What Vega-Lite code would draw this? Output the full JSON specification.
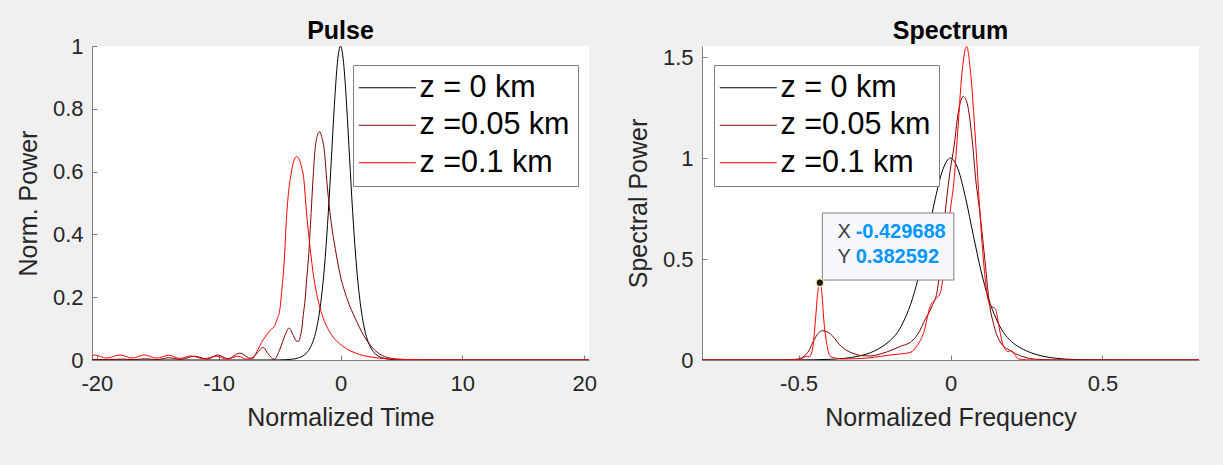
{
  "$schema": "https://vega.github.io/schema/vega-lite/v6.json",
  "background": "#f0f0f0",
  "padding": {"left": 16, "top": 19, "right": 30, "bottom": 45},
  "bounds": "flush",
  "spacing": 113,
  "config": {
    "view": {"fill": "white", "stroke": null},
    "font": "Liberation Sans",
    "axis": {
      "labelFont": "Liberation Sans", "labelFontSize": 22, "labelColor": "#262626",
      "titleFont": "Liberation Sans", "titleFontSize": 25, "titleFontWeight": "normal", "titleColor": "#262626",
      "domainColor": "#7f7f7f", "tickColor": "#7f7f7f", "tickSize": -5, "grid": false,
      "labelExpr": "'' + datum.value"
    },
    "axisX": {"labelPadding": 18, "titlePadding": 11},
    "axisY": {"labelPadding": 14, "titlePadding": 11},
    "title": {"font": "Liberation Sans", "fontSize": 25, "fontWeight": "bold", "color": "#000000", "offset": 2, "baseline": "alphabetic"},
    "legend": {
      "title": null, "orient": "none", "symbolType": "M-3,0H3", "symbolSize": 361, "symbolStrokeWidth": 1,
      "symbolOffset": 11.5, "labelOffset": 17,
      "labelFont": "Liberation Sans", "labelFontSize": 30.5, "labelColor": "#000000",
      "strokeColor": "#7f7f7f", "fillColor": "white", "padding": 7.5, "rowPadding": 6.5
    },
    "line": {"strokeWidth": 1, "interpolate": "monotone"}
  },
  "resolve": {"scale": {"color": "independent"}, "legend": {"color": "independent"}},
  "datasets": {
    "pulse": [
      {"t": -20.4, "P": 0, "z": "z = 0 km"}, {"t": -8, "P": 0, "z": "z = 0 km"}, {"t": -6, "P": 0.0001, "z": "z = 0 km"},
      {"t": -5, "P": 0.0004, "z": "z = 0 km"}, {"t": -4, "P": 0.0024, "z": "z = 0 km"}, {"t": -3.5, "P": 0.0061, "z": "z = 0 km"},
      {"t": -3, "P": 0.0154, "z": "z = 0 km"}, {"t": -2.5, "P": 0.038, "z": "z = 0 km"}, {"t": -2, "P": 0.094, "z": "z = 0 km"},
      {"t": -1.75, "P": 0.146, "z": "z = 0 km"}, {"t": -1.5, "P": 0.222, "z": "z = 0 km"}, {"t": -1.25, "P": 0.329, "z": "z = 0 km"},
      {"t": -1, "P": 0.47, "z": "z = 0 km"}, {"t": -0.75, "P": 0.64, "z": "z = 0 km"}, {"t": -0.5, "P": 0.813, "z": "z = 0 km"},
      {"t": -0.25, "P": 0.948, "z": "z = 0 km"}, {"t": 0, "P": 1, "z": "z = 0 km"}, {"t": 0.25, "P": 0.948, "z": "z = 0 km"},
      {"t": 0.5, "P": 0.813, "z": "z = 0 km"}, {"t": 0.75, "P": 0.64, "z": "z = 0 km"}, {"t": 1, "P": 0.47, "z": "z = 0 km"},
      {"t": 1.25, "P": 0.329, "z": "z = 0 km"}, {"t": 1.5, "P": 0.222, "z": "z = 0 km"}, {"t": 1.75, "P": 0.146, "z": "z = 0 km"},
      {"t": 2, "P": 0.094, "z": "z = 0 km"}, {"t": 2.5, "P": 0.038, "z": "z = 0 km"}, {"t": 3, "P": 0.0154, "z": "z = 0 km"},
      {"t": 3.5, "P": 0.0061, "z": "z = 0 km"}, {"t": 4, "P": 0.0024, "z": "z = 0 km"}, {"t": 5, "P": 0.0004, "z": "z = 0 km"},
      {"t": 6, "P": 0.0001, "z": "z = 0 km"}, {"t": 8, "P": 0, "z": "z = 0 km"}, {"t": 20.4, "P": 0, "z": "z = 0 km"},

      {"t": -20.4, "P": 0.002, "z": "z =0.05 km"}, {"t": -19, "P": 0.001, "z": "z =0.05 km"}, {"t": -18, "P": 0.003, "z": "z =0.05 km"},
      {"t": -17, "P": 0.001, "z": "z =0.05 km"}, {"t": -16, "P": 0.004, "z": "z =0.05 km"}, {"t": -15.1, "P": 0.001, "z": "z =0.05 km"},
      {"t": -14.1, "P": 0.007, "z": "z =0.05 km"}, {"t": -13.1, "P": 0.002, "z": "z =0.05 km"}, {"t": -12, "P": 0.012, "z": "z =0.05 km"},
      {"t": -10.9, "P": 0.003, "z": "z =0.05 km"}, {"t": -10.07, "P": 0.016, "z": "z =0.05 km"}, {"t": -9.24, "P": 0.004, "z": "z =0.05 km"},
      {"t": -8.28, "P": 0.022, "z": "z =0.05 km"}, {"t": -7.3, "P": 0.004, "z": "z =0.05 km"}, {"t": -6.85, "P": 0.022, "z": "z =0.05 km"},
      {"t": -6.35, "P": 0.04, "z": "z =0.05 km"}, {"t": -5.93, "P": 0.019, "z": "z =0.05 km"}, {"t": -5.44, "P": 0.002, "z": "z =0.05 km"},
      {"t": -4.97, "P": 0.035, "z": "z =0.05 km"}, {"t": -4.56, "P": 0.078, "z": "z =0.05 km"}, {"t": -4.23, "P": 0.102, "z": "z =0.05 km"},
      {"t": -3.87, "P": 0.078, "z": "z =0.05 km"}, {"t": -3.6, "P": 0.06, "z": "z =0.05 km"}, {"t": -3.42, "P": 0.06, "z": "z =0.05 km"},
      {"t": -3.3, "P": 0.075, "z": "z =0.05 km"}, {"t": -3.18, "P": 0.099, "z": "z =0.05 km"}, {"t": -3.05, "P": 0.145, "z": "z =0.05 km"},
      {"t": -2.9, "P": 0.195, "z": "z =0.05 km"}, {"t": -2.77, "P": 0.26, "z": "z =0.05 km"}, {"t": -2.63, "P": 0.323, "z": "z =0.05 km"},
      {"t": -2.41, "P": 0.47, "z": "z =0.05 km"}, {"t": -2.25, "P": 0.58, "z": "z =0.05 km"}, {"t": -2.08, "P": 0.674, "z": "z =0.05 km"},
      {"t": -1.9, "P": 0.715, "z": "z =0.05 km"}, {"t": -1.72, "P": 0.727, "z": "z =0.05 km"}, {"t": -1.55, "P": 0.712, "z": "z =0.05 km"},
      {"t": -1.31, "P": 0.66, "z": "z =0.05 km"}, {"t": -1.12, "P": 0.568, "z": "z =0.05 km"}, {"t": -0.84, "P": 0.461, "z": "z =0.05 km"},
      {"t": -0.43, "P": 0.355, "z": "z =0.05 km"}, {"t": -0.02, "P": 0.27, "z": "z =0.05 km"}, {"t": 0.54, "P": 0.195, "z": "z =0.05 km"},
      {"t": 1.23, "P": 0.131, "z": "z =0.05 km"}, {"t": 1.91, "P": 0.078, "z": "z =0.05 km"}, {"t": 2.6, "P": 0.04, "z": "z =0.05 km"},
      {"t": 3.43, "P": 0.014, "z": "z =0.05 km"}, {"t": 4.2, "P": 0.005, "z": "z =0.05 km"}, {"t": 5, "P": 0.002, "z": "z =0.05 km"},
      {"t": 6, "P": 0.0005, "z": "z =0.05 km"}, {"t": 8, "P": 0, "z": "z =0.05 km"}, {"t": 20.4, "P": 0, "z": "z =0.05 km"},

      {"t": -20.4, "P": 0.012, "z": "z =0.1 km"}, {"t": -20.2, "P": 0.016, "z": "z =0.1 km"}, {"t": -19.2, "P": 0.006, "z": "z =0.1 km"},
      {"t": -18.1, "P": 0.016, "z": "z =0.1 km"}, {"t": -17.1, "P": 0.006, "z": "z =0.1 km"}, {"t": -16.1, "P": 0.016, "z": "z =0.1 km"},
      {"t": -15.1, "P": 0.006, "z": "z =0.1 km"}, {"t": -14.1, "P": 0.015, "z": "z =0.1 km"}, {"t": -13.2, "P": 0.005, "z": "z =0.1 km"},
      {"t": -12.3, "P": 0.013, "z": "z =0.1 km"}, {"t": -11.2, "P": 0.004, "z": "z =0.1 km"}, {"t": -10.2, "P": 0.012, "z": "z =0.1 km"},
      {"t": -9.3, "P": 0.003, "z": "z =0.1 km"}, {"t": -8.4, "P": 0.012, "z": "z =0.1 km"}, {"t": -7.7, "P": 0.003, "z": "z =0.1 km"},
      {"t": -7.17, "P": 0.009, "z": "z =0.1 km"}, {"t": -6.76, "P": 0.035, "z": "z =0.1 km"}, {"t": -6.5, "P": 0.055, "z": "z =0.1 km"},
      {"t": -6.21, "P": 0.072, "z": "z =0.1 km"}, {"t": -5.8, "P": 0.094, "z": "z =0.1 km"}, {"t": -5.39, "P": 0.11, "z": "z =0.1 km"},
      {"t": -5.2, "P": 0.13, "z": "z =0.1 km"}, {"t": -4.97, "P": 0.163, "z": "z =0.1 km"}, {"t": -4.8, "P": 0.23, "z": "z =0.1 km"},
      {"t": -4.64, "P": 0.301, "z": "z =0.1 km"}, {"t": -4.42, "P": 0.461, "z": "z =0.1 km"}, {"t": -4.25, "P": 0.54, "z": "z =0.1 km"},
      {"t": -4.07, "P": 0.589, "z": "z =0.1 km"}, {"t": -3.85, "P": 0.632, "z": "z =0.1 km"}, {"t": -3.6, "P": 0.648, "z": "z =0.1 km"},
      {"t": -3.35, "P": 0.635, "z": "z =0.1 km"}, {"t": -3.2, "P": 0.615, "z": "z =0.1 km"}, {"t": -3.04, "P": 0.585, "z": "z =0.1 km"},
      {"t": -2.77, "P": 0.461, "z": "z =0.1 km"}, {"t": -2.49, "P": 0.355, "z": "z =0.1 km"}, {"t": -2.22, "P": 0.27, "z": "z =0.1 km"},
      {"t": -1.8, "P": 0.184, "z": "z =0.1 km"}, {"t": -1.39, "P": 0.131, "z": "z =0.1 km"}, {"t": -0.7, "P": 0.078, "z": "z =0.1 km"},
      {"t": 0.12, "P": 0.046, "z": "z =0.1 km"}, {"t": 1.23, "P": 0.022, "z": "z =0.1 km"}, {"t": 2.6, "P": 0.009, "z": "z =0.1 km"},
      {"t": 3.4, "P": 0.005, "z": "z =0.1 km"}, {"t": 5, "P": 0.002, "z": "z =0.1 km"}, {"t": 7, "P": 0.0005, "z": "z =0.1 km"},
      {"t": 10, "P": 0, "z": "z =0.1 km"}, {"t": 20.4, "P": 0, "z": "z =0.1 km"}
    ],
    "spec": [
      {"f": -0.8175, "S": 0, "z": "z = 0 km"}, {"f": -0.6, "S": 0, "z": "z = 0 km"}, {"f": -0.5, "S": 0.0005, "z": "z = 0 km"},
      {"f": -0.45, "S": 0.0012, "z": "z = 0 km"}, {"f": -0.4, "S": 0.003, "z": "z = 0 km"}, {"f": -0.35, "S": 0.008, "z": "z = 0 km"},
      {"f": -0.3, "S": 0.02, "z": "z = 0 km"}, {"f": -0.25, "S": 0.045, "z": "z = 0 km"}, {"f": -0.2, "S": 0.095, "z": "z = 0 km"},
      {"f": -0.175, "S": 0.135, "z": "z = 0 km"}, {"f": -0.15, "S": 0.205, "z": "z = 0 km"}, {"f": -0.125, "S": 0.304, "z": "z = 0 km"},
      {"f": -0.1, "S": 0.444, "z": "z = 0 km"}, {"f": -0.075, "S": 0.618, "z": "z = 0 km"}, {"f": -0.05, "S": 0.8, "z": "z = 0 km"},
      {"f": -0.025, "S": 0.944, "z": "z = 0 km"}, {"f": 0, "S": 1, "z": "z = 0 km"}, {"f": 0.025, "S": 0.944, "z": "z = 0 km"},
      {"f": 0.05, "S": 0.8, "z": "z = 0 km"}, {"f": 0.075, "S": 0.618, "z": "z = 0 km"}, {"f": 0.1, "S": 0.444, "z": "z = 0 km"},
      {"f": 0.125, "S": 0.304, "z": "z = 0 km"}, {"f": 0.15, "S": 0.205, "z": "z = 0 km"}, {"f": 0.175, "S": 0.135, "z": "z = 0 km"},
      {"f": 0.2, "S": 0.092, "z": "z = 0 km"}, {"f": 0.23, "S": 0.06, "z": "z = 0 km"}, {"f": 0.25, "S": 0.045, "z": "z = 0 km"},
      {"f": 0.3, "S": 0.02, "z": "z = 0 km"}, {"f": 0.35, "S": 0.008, "z": "z = 0 km"}, {"f": 0.4, "S": 0.003, "z": "z = 0 km"},
      {"f": 0.5, "S": 0.0005, "z": "z = 0 km"}, {"f": 0.6, "S": 0, "z": "z = 0 km"}, {"f": 0.8175, "S": 0, "z": "z = 0 km"},

      {"f": -0.8175, "S": 0, "z": "z =0.05 km"}, {"f": -0.55, "S": 0, "z": "z =0.05 km"}, {"f": -0.52, "S": 0.002, "z": "z =0.05 km"},
      {"f": -0.5, "S": 0.005, "z": "z =0.05 km"}, {"f": -0.482, "S": 0.018, "z": "z =0.05 km"}, {"f": -0.466, "S": 0.046, "z": "z =0.05 km"},
      {"f": -0.45, "S": 0.096, "z": "z =0.05 km"}, {"f": -0.435, "S": 0.132, "z": "z =0.05 km"}, {"f": -0.422, "S": 0.145, "z": "z =0.05 km"},
      {"f": -0.41, "S": 0.142, "z": "z =0.05 km"}, {"f": -0.395, "S": 0.129, "z": "z =0.05 km"}, {"f": -0.38, "S": 0.105, "z": "z =0.05 km"},
      {"f": -0.367, "S": 0.079, "z": "z =0.05 km"}, {"f": -0.34, "S": 0.046, "z": "z =0.05 km"}, {"f": -0.315, "S": 0.03, "z": "z =0.05 km"},
      {"f": -0.29, "S": 0.021, "z": "z =0.05 km"}, {"f": -0.263, "S": 0.02, "z": "z =0.05 km"}, {"f": -0.23, "S": 0.03, "z": "z =0.05 km"},
      {"f": -0.186, "S": 0.054, "z": "z =0.05 km"}, {"f": -0.164, "S": 0.068, "z": "z =0.05 km"}, {"f": -0.132, "S": 0.088, "z": "z =0.05 km"},
      {"f": -0.115, "S": 0.112, "z": "z =0.05 km"}, {"f": -0.1, "S": 0.148, "z": "z =0.05 km"}, {"f": -0.088, "S": 0.187, "z": "z =0.05 km"},
      {"f": -0.06, "S": 0.269, "z": "z =0.05 km"}, {"f": -0.044, "S": 0.34, "z": "z =0.05 km"}, {"f": -0.033, "S": 0.467, "z": "z =0.05 km"},
      {"f": -0.016, "S": 0.75, "z": "z =0.05 km"}, {"f": 0, "S": 0.95, "z": "z =0.05 km"}, {"f": 0.011, "S": 1.05, "z": "z =0.05 km"},
      {"f": 0.025, "S": 1.22, "z": "z =0.05 km"}, {"f": 0.042, "S": 1.305, "z": "z =0.05 km"}, {"f": 0.055, "S": 1.27, "z": "z =0.05 km"},
      {"f": 0.071, "S": 1.094, "z": "z =0.05 km"}, {"f": 0.084, "S": 0.88, "z": "z =0.05 km"}, {"f": 0.095, "S": 0.75, "z": "z =0.05 km"},
      {"f": 0.115, "S": 0.467, "z": "z =0.05 km"}, {"f": 0.126, "S": 0.302, "z": "z =0.05 km"}, {"f": 0.143, "S": 0.17, "z": "z =0.05 km"},
      {"f": 0.164, "S": 0.088, "z": "z =0.05 km"}, {"f": 0.197, "S": 0.046, "z": "z =0.05 km"}, {"f": 0.23, "S": 0.021, "z": "z =0.05 km"},
      {"f": 0.26, "S": 0.008, "z": "z =0.05 km"}, {"f": 0.3, "S": 0.002, "z": "z =0.05 km"}, {"f": 0.4, "S": 0, "z": "z =0.05 km"},
      {"f": 0.8175, "S": 0, "z": "z =0.05 km"},

      {"f": -0.8175, "S": 0, "z": "z =0.1 km"}, {"f": -0.55, "S": 0, "z": "z =0.1 km"}, {"f": -0.51, "S": 0.002, "z": "z =0.1 km"},
      {"f": -0.49, "S": 0.006, "z": "z =0.1 km"}, {"f": -0.475, "S": 0.018, "z": "z =0.1 km"}, {"f": -0.465, "S": 0.016, "z": "z =0.1 km"},
      {"f": -0.457, "S": 0.035, "z": "z =0.1 km"}, {"f": -0.452, "S": 0.071, "z": "z =0.1 km"}, {"f": -0.444, "S": 0.203, "z": "z =0.1 km"},
      {"f": -0.437, "S": 0.33, "z": "z =0.1 km"}, {"f": -0.429688, "S": 0.382592, "z": "z =0.1 km"}, {"f": -0.423, "S": 0.33, "z": "z =0.1 km"},
      {"f": -0.417, "S": 0.203, "z": "z =0.1 km"}, {"f": -0.406, "S": 0.071, "z": "z =0.1 km"}, {"f": -0.395, "S": 0.018, "z": "z =0.1 km"},
      {"f": -0.373, "S": 0.008, "z": "z =0.1 km"}, {"f": -0.35, "S": 0.005, "z": "z =0.1 km"}, {"f": -0.318, "S": 0.006, "z": "z =0.1 km"},
      {"f": -0.27, "S": 0.01, "z": "z =0.1 km"}, {"f": -0.23, "S": 0.018, "z": "z =0.1 km"}, {"f": -0.197, "S": 0.025, "z": "z =0.1 km"},
      {"f": -0.164, "S": 0.03, "z": "z =0.1 km"}, {"f": -0.132, "S": 0.038, "z": "z =0.1 km"}, {"f": -0.11, "S": 0.071, "z": "z =0.1 km"},
      {"f": -0.088, "S": 0.137, "z": "z =0.1 km"}, {"f": -0.066, "S": 0.269, "z": "z =0.1 km"}, {"f": -0.049, "S": 0.302, "z": "z =0.1 km"},
      {"f": -0.033, "S": 0.335, "z": "z =0.1 km"}, {"f": -0.027, "S": 0.385, "z": "z =0.1 km"}, {"f": -0.016, "S": 0.55, "z": "z =0.1 km"},
      {"f": 0, "S": 0.75, "z": "z =0.1 km"}, {"f": 0.011, "S": 0.88, "z": "z =0.1 km"}, {"f": 0.022, "S": 1.094, "z": "z =0.1 km"},
      {"f": 0.038, "S": 1.424, "z": "z =0.1 km"}, {"f": 0.053, "S": 1.553, "z": "z =0.1 km"}, {"f": 0.066, "S": 1.424, "z": "z =0.1 km"},
      {"f": 0.082, "S": 1.094, "z": "z =0.1 km"}, {"f": 0.096, "S": 0.75, "z": "z =0.1 km"}, {"f": 0.11, "S": 0.467, "z": "z =0.1 km"},
      {"f": 0.121, "S": 0.318, "z": "z =0.1 km"}, {"f": 0.132, "S": 0.269, "z": "z =0.1 km"}, {"f": 0.148, "S": 0.252, "z": "z =0.1 km"},
      {"f": 0.159, "S": 0.17, "z": "z =0.1 km"}, {"f": 0.17, "S": 0.088, "z": "z =0.1 km"}, {"f": 0.181, "S": 0.051, "z": "z =0.1 km"},
      {"f": 0.19, "S": 0.042, "z": "z =0.1 km"}, {"f": 0.197, "S": 0.046, "z": "z =0.1 km"}, {"f": 0.205, "S": 0.04, "z": "z =0.1 km"},
      {"f": 0.214, "S": 0.021, "z": "z =0.1 km"}, {"f": 0.224, "S": 0.005, "z": "z =0.1 km"}, {"f": 0.25, "S": 0.001, "z": "z =0.1 km"},
      {"f": 0.3, "S": 0, "z": "z =0.1 km"}, {"f": 0.8175, "S": 0, "z": "z =0.1 km"}
    ]
  },
  "hconcat": [
    {
      "width": 497, "height": 314,
      "title": {"text": "Pulse", "dy": 11},
      "data": {"name": "pulse"},
      "mark": {"type": "line", "clip": true},
      "encoding": {
        "x": {"field": "t", "type": "quantitative", "title": "Normalized Time",
              "scale": {"domain": [-20.4, 20.4], "nice": false, "zero": false},
              "axis": {"values": [-20, -10, 0, 10, 20]}},
        "y": {"field": "P", "type": "quantitative", "title": "Norm. Power",
              "scale": {"domain": [0, 1], "nice": false},
              "axis": {"values": [0, 0.2, 0.4, 0.6, 0.8, 1]}},
        "color": {"field": "z", "type": "nominal",
                  "scale": {"domain": ["z = 0 km", "z =0.05 km", "z =0.1 km"], "range": ["#000000", "#800000", "#ff0000"]},
                  "legend": {"legendX": 261, "legendY": 19}}
      }
    },
    {
      "width": 497, "height": 314,
      "title": "Spectrum",
      "layer": [
        {
          "data": {"name": "spec"},
          "mark": {"type": "line", "clip": true},
          "encoding": {
            "x": {"field": "f", "type": "quantitative", "title": "Normalized Frequency",
                  "scale": {"domain": [-0.8175, 0.8175], "nice": false, "zero": false},
                  "axis": {"values": [-0.5, 0, 0.5]}},
            "y": {"field": "S", "type": "quantitative", "title": "Spectral Power",
                  "scale": {"domain": [0, 1.555], "nice": false},
                  "axis": {"values": [0, 0.5, 1, 1.5]}},
            "color": {"field": "z", "type": "nominal",
                      "scale": {"domain": ["z = 0 km", "z =0.05 km", "z =0.1 km"], "range": ["#000000", "#800000", "#ff0000"]},
                      "legend": {"legendX": 12, "legendY": 19}}
          }
        },
        {
          "data": {"values": [{"x1": -0.4215, "x2": 0.011, "y1": 0.396, "y2": 0.728}]},
          "mark": {"type": "rect", "fill": "#f8f8fc", "stroke": "#7f7f7f", "strokeWidth": 1},
          "encoding": {
            "x": {"field": "x1", "type": "quantitative"}, "x2": {"field": "x2"},
            "y": {"field": "y1", "type": "quantitative"}, "y2": {"field": "y2"}
          }
        },
        {
          "data": {"values": [{"f": -0.429688, "S": 0.382592}]},
          "mark": {"type": "point", "filled": true, "fill": "#1a1a1a", "stroke": "#f2eeb0", "strokeWidth": 1.5, "size": 60, "opacity": 1},
          "encoding": {
            "x": {"field": "f", "type": "quantitative"},
            "y": {"field": "S", "type": "quantitative"}
          }
        },
        {
          "data": {"values": [{"f": -0.372, "S": 0.632, "txt": "X"}, {"f": -0.372, "S": 0.508, "txt": "Y"}]},
          "mark": {"type": "text", "align": "left", "baseline": "middle", "font": "Liberation Sans", "fontSize": 20, "color": "#404040"},
          "encoding": {
            "x": {"field": "f", "type": "quantitative"},
            "y": {"field": "S", "type": "quantitative"},
            "text": {"field": "txt"}
          }
        },
        {
          "data": {"values": [{"f": -0.312, "S": 0.632, "txt": "-0.429688"}, {"f": -0.312, "S": 0.508, "txt": "0.382592"}]},
          "mark": {"type": "text", "align": "left", "baseline": "middle", "font": "Liberation Sans", "fontSize": 20, "fontWeight": "bold", "color": "#0096ff"},
          "encoding": {
            "x": {"field": "f", "type": "quantitative"},
            "y": {"field": "S", "type": "quantitative"},
            "text": {"field": "txt"}
          }
        }
      ]
    }
  ]
}
